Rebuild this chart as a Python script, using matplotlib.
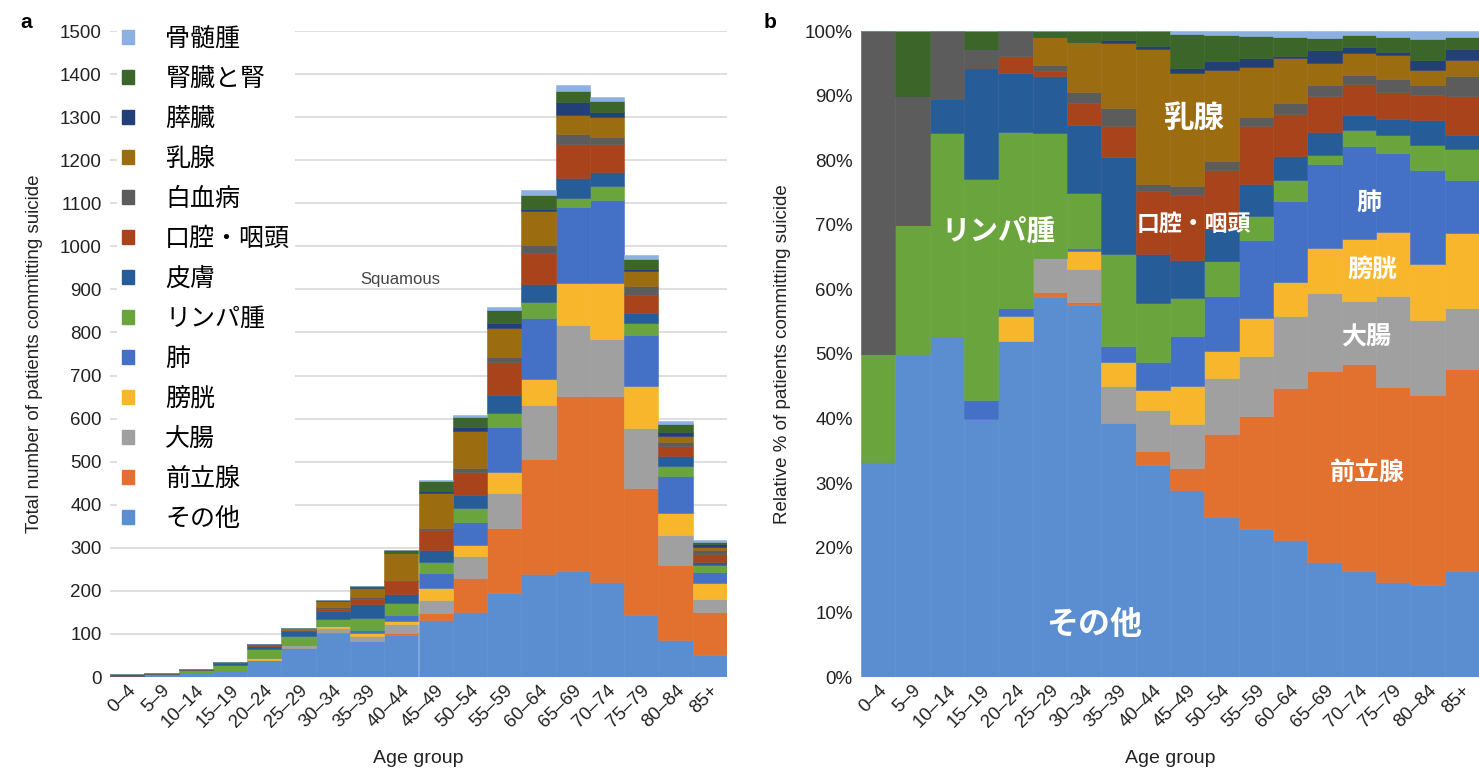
import numpy as np
import matplotlib
matplotlib.use('Agg')
import matplotlib.pyplot as plt
import matplotlib.patches as mpatches

plt.rcParams['font.family'] = ['Liberation Sans', 'Noto Sans CJK JP']
JP = ['Noto Sans CJK JP', 'DejaVu Sans']

ages = ['0–4', '5–9', '10–14', '15–19', '20–24', '25–29', '30–34', '35–39', '40–44',
        '45–49', '50–54', '55–59', '60–64', '65–69', '70–74', '75–79', '80–84', '85+']

# suicide counts per cancer site, stacked bottom to top
other      = [2, 5, 10, 14, 40, 67, 103, 83, 97, 132, 151, 196, 239, 245, 220, 144, 85, 52]
prostate   = [0, 0, 0, 0, 0, 1, 1, 0, 6, 16, 78, 150, 267, 407, 432, 296, 175, 99]
colorectal = [0, 0, 0, 0, 0, 6, 9, 12, 19, 31, 52, 81, 125, 166, 133, 138, 69, 30]
bladder    = [0, 0, 0, 0, 3, 0, 5, 8, 9, 27, 26, 50, 60, 96, 129, 97, 51, 37]
lung       = [0, 0, 0, 1, 1, 0, 1, 5, 13, 35, 52, 104, 142, 178, 194, 119, 87, 26]
lymphoma   = [1, 2, 6, 12, 21, 22, 15, 30, 27, 27, 33, 31, 37, 20, 32, 27, 23, 15]
skin       = [0, 0, 1, 6, 7, 10, 19, 32, 22, 27, 30, 43, 42, 47, 32, 24, 23, 7]
oral       = [0, 0, 0, 0, 2, 1, 6, 10, 29, 46, 55, 77, 73, 78, 65, 42, 23, 19]
leukemia   = [3, 2, 2, 1, 3, 1, 3, 6, 3, 6, 9, 12, 19, 23, 18, 20, 9, 10]
breast     = [0, 0, 0, 0, 0, 5, 14, 21, 62, 80, 85, 66, 78, 46, 46, 35, 14, 8]
pancreas   = [0, 0, 0, 0, 0, 0, 0, 1, 1, 4, 9, 12, 5, 28, 12, 5, 9, 5]
kidney     = [0, 1, 0, 1, 0, 1, 3, 3, 7, 24, 24, 30, 32, 27, 25, 23, 20, 6]
myeloma    = [0, 0, 0, 0, 0, 0, 0, 0, 0, 2, 4, 6, 11, 14, 9, 9, 7, 3]

sites = [
    ('その他', other, '#5b8ed1'),
    ('前立腺', prostate, '#e2702e'),
    ('大腸', colorectal, '#a0a0a0'),
    ('膀胱', bladder, '#f7b62c'),
    ('肺', lung, '#4470c5'),
    ('リンパ腫', lymphoma, '#6aa43d'),
    ('皮膚', skin, '#265c98'),
    ('口腔・咽頭', oral, '#a9431b'),
    ('白血病', leukemia, '#5c5c5c'),
    ('乳腺', breast, '#9c6c10'),
    ('膵臓', pancreas, '#233f77'),
    ('腎臓と腎', kidney, '#3b6529'),
    ('骨髄腫', myeloma, '#8db0e2'),
]

counts = np.array([s[1] for s in sites], dtype=float)
totals = counts.sum(axis=0)
percent = counts / totals * 100
x = np.arange(len(ages))

fig = plt.figure(figsize=(14.79, 7.72), dpi=100)
ax1 = fig.add_axes([110 / 1479, 95 / 772, 617 / 1479, 646 / 772])
ax2 = fig.add_axes([861 / 1479, 95 / 772, 618 / 1479, 646 / 772])

# a: absolute numbers
bottom = np.zeros(len(ages))
for (name, vals, col), row in zip(sites, counts):
    ax1.bar(x, row, bottom=bottom, width=1.0, color=col, edgecolor=col, linewidth=0.4, label=name)
    bottom += row
ax1.set_xlim(-0.5, len(ages) - 0.5)
ax1.set_ylim(0, 1500)
ax1.set_yticks(range(0, 1501, 100))
ax1.yaxis.grid(True, color='#d9d9d9', lw=1.2)
ax1.set_axisbelow(True)
ax1.set_ylabel('Total number of patients committing suicide', fontsize=13.5, color='#222', labelpad=12)
ax1.text(6.8, 924, 'Squamous', fontsize=12, color='#444', ha='left', va='center')

# b: relative share
bottom = np.zeros(len(ages))
for (name, vals, col), row in zip(sites, percent):
    ax2.bar(x, row, bottom=bottom, width=1.0, color=col, edgecolor=col, linewidth=0.4)
    bottom += row
ax2.set_xlim(-0.5, len(ages) - 0.5)
ax2.set_ylim(0, 100)
ax2.set_yticks(range(0, 101, 10))
ax2.set_yticklabels([f'{v}%' for v in range(0, 101, 10)])
ax2.set_ylabel('Relative % of patients committing suicide', fontsize=13.5, color='#222', labelpad=10)

inside = [
    ('乳腺', 9.2, 86.5, 22), ('リンパ腫', 3.5, 68.9, 20.5), ('口腔・咽頭', 9.2, 70.1, 16.5),
    ('肺', 14.3, 73.4, 18), ('膀胱', 14.4, 63.0, 18), ('大腸', 14.2, 52.6, 18),
    ('前立腺', 14.25, 31.6, 18), ('その他', 6.3, 8.0, 23),
]
for txt, tx, ty, fs in inside:
    ax2.text(tx, ty, txt, color='white', fontsize=fs, fontweight='bold',
             family=JP, ha='center', va='center')

for ax in (ax1, ax2):
    for sp in ax.spines.values():
        sp.set_visible(False)
    ax.tick_params(length=0, labelsize=13.5, labelcolor='#222')
    ax.tick_params(axis='y', pad=6)
    ax.set_xticks(x)
    ax.set_xticklabels(ages, rotation=45, ha='right', va='top', rotation_mode='anchor', fontsize=13.5)
    ax.set_xlabel('Age group', fontsize=14, color='#222', labelpad=14)

handles = [mpatches.Patch(color=col, label=name) for name, vals, col in sites[::-1]]
leg = ax1.legend(handles=handles, loc='upper left', bbox_to_anchor=(104 / 1479, 1 - 8 / 772),
                 bbox_transform=fig.transFigure, frameon=True, facecolor='white', edgecolor='none',
                 framealpha=1, borderpad=0.2, handlelength=0.5, handleheight=0.5,
                 handletextpad=1.25, labelspacing=0.56, prop={'family': JP, 'size': 18})

fig.text(20 / 1479, 1 - 22 / 772, 'a', fontsize=15, fontweight='bold', va='center')
fig.text(764 / 1479, 1 - 22 / 772, 'b', fontsize=15, fontweight='bold', va='center')

fig.savefig('out.png', dpi=100)
